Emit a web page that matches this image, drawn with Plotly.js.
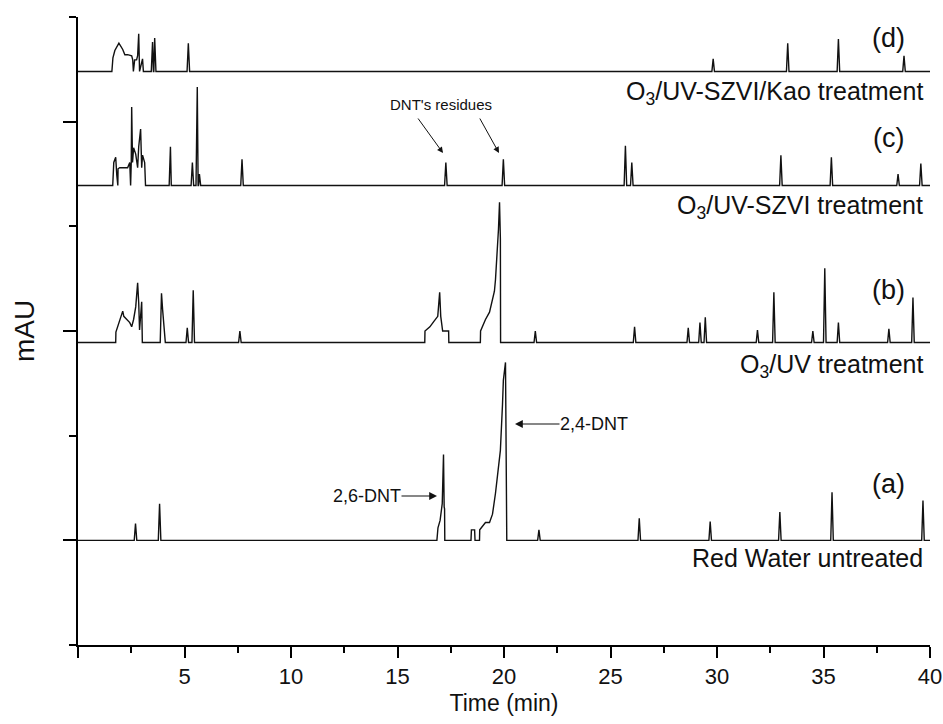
<!DOCTYPE html>
<html>
<head>
<meta charset="utf-8">
<script src="https://cdn.plot.ly/plotly-3.0.1.min.js"></script>
<style>html,body{margin:0;padding:0;background:#fff;}#chart{width:943px;height:724px;}</style>
</head>
<body>
<div id="chart"></div>
<script>
// ---- Data (retention time in min, signal in mAU above each baseline) ----
// (a) Red Water untreated
const aShapeT = [16.85, 16.9, 17.0, 17.1, 17.16, 17.19, 17.21, 17.22,
                 18.45, 18.47, 18.62, 18.64,
                 18.85, 18.86, 19.13, 19.32, 19.46, 19.6, 19.83, 19.93, 19.97, 20.07, 20.1, 20.13];
const aShapeV = [0, 12, 19, 35, 82, 32, 30, 0,
                 0, 10, 10, 0,
                 0, 10, 17, 17, 25, 45, 86, 130, 153, 170, 86, 0];
const aPeakT = [2.7, 3.83, 21.64, 26.35, 29.68, 32.95, 35.4, 39.67];
const aPeakV = [16, 35, 10, 21, 18, 27, 46, 38];

// (b) O3/UV treatment
const bShapeT = [1.77, 1.78, 1.96, 2.1, 2.15, 2.29, 2.43, 2.52, 2.61, 2.71, 2.75, 2.8, 2.85, 2.89, 2.99, 3.02,
                 3.86, 3.92, 3.97, 4.1,
                 16.28, 16.29, 16.52, 16.7, 16.89, 16.98, 17.03, 17.12, 17.4, 17.41,
                 18.89, 18.9, 19.13, 19.32, 19.55, 19.6, 19.69, 19.74, 19.79, 19.83, 19.84];
const bShapeV = [0, 10, 22, 30, 25, 22, 19, 15, 22, 34, 49, 57, 38, 12, 39, 0,
                 0, 47, 32, 0,
                 0, 11, 15, 20, 25, 48, 25, 11, 11, 0,
                 0, 11, 22, 29, 49, 60, 89, 108, 134, 99, 0];
const bPeakT = [5.13, 5.41, 7.6, 21.47, 26.13, 28.65, 29.2, 29.45, 31.9, 32.67, 34.5, 35.06, 35.7, 38.07, 39.2];
const bPeakV = [14, 50, 11, 11, 15, 14, 19, 24, 12, 48, 11, 71, 19, 13, 43];

// (c) O3/UV-SZVI treatment
const cShapeT = [1.63, 1.68, 1.77, 1.82, 1.87, 1.88, 1.96, 2.1, 2.33, 2.43, 2.47, 2.5, 2.52, 2.56, 2.61, 2.71,
                 2.8, 2.85, 2.94, 2.99, 3.03, 3.13, 3.17,
                 4.28, 4.3, 4.34, 4.38];
const cShapeV = [0, 22, 27, 10, 0, 16, 17, 17, 17, 22, 0, 22, 75, 22, 36, 30,
                 17, 37, 54, 17, 29, 22, 0,
                 0, 28, 37, 0];
const cPeakT = [5.37, 5.6, 5.7, 7.7, 17.27, 19.97, 25.7, 26.0, 33.0, 35.37, 38.5, 39.57];
const cPeakV = [22, 94, 11, 25, 22, 25, 38, 22, 29, 27, 11, 21];

// (d) O3/UV-SZVI/Kao treatment
const dShapeT = [1.59, 1.64, 1.73, 1.92, 2.06, 2.1, 2.2, 2.33, 2.52, 2.57, 2.6, 2.66, 2.75, 2.8, 2.85, 2.89, 3.03, 3.07];
const dShapeV = [0, 13, 20, 27, 23, 21, 16, 16, 15, 11, 0, 11, 11, 15, 36, 0, 12, 0];
const dPeakT = [3.5, 3.6, 5.18, 29.82, 33.32, 35.7, 38.78];
const dPeakV = [28, 32, 27, 12, 27, 31, 15];

// vertical offsets of the stacked chromatograms (mAU)
const offsets = [100, 289, 439, 548];
const traceNames = ['Red Water untreated', 'O3/UV treatment', 'O3/UV-SZVI treatment', 'O3/UV-SZVI/Kao treatment'];

// axis ticks
const xTickVals = [0, 5, 10, 15, 20, 25, 30, 35, 40];
const xTickText = ['', '5', '10', '15', '20', '25', '30', '35', '40'];
const xMinorVals = [2.5, 7.5, 12.5, 17.5, 22.5, 27.5, 32.5, 37.5];
const yTickVals = [100, 300, 500];
const yMinorVals = [0, 200, 400, 600];

// ---- build traces ----
const peakHalfWidth = 0.06;
function build(shapeT, shapeV, peakT, peakV, offset) {
  const pts = [[0, 0], [40, 0]];
  shapeT.forEach((t, i) => pts.push([t, shapeV[i]]));
  peakT.forEach((t, i) => {
    pts.push([t - peakHalfWidth, 0]);
    pts.push([t, peakV[i]]);
    pts.push([t + peakHalfWidth, 0]);
  });
  pts.sort((p, q) => p[0] - q[0]);
  return { x: pts.map(p => p[0]), y: pts.map(p => p[1] + offset) };
}
const sets = [
  [aShapeT, aShapeV, aPeakT, aPeakV],
  [bShapeT, bShapeV, bPeakT, bPeakV],
  [cShapeT, cShapeV, cPeakT, cPeakV],
  [dShapeT, dShapeV, dPeakT, dPeakV]
];
const data = sets.map((s, i) => {
  const d = build(s[0], s[1], s[2], s[3], offsets[i]);
  return { x: d.x, y: d.y, type: 'scatter', mode: 'lines', name: traceNames[i],
           line: { color: '#111', width: 1.4 }, hoverinfo: 'x+y' };
});

const F = 'Liberation Sans, Arial, sans-serif';
const L = 78, R = 930, T = 17, B = 645;
function px(x) { return (x - L) / (R - L); }
function py(y) { return (B - y) / (B - T); }

const labelFont = { family: F, size: 25, color: '#111' };
const tagFont = { family: F, size: 27, color: '#111' };
function lab(text, x, y, xa, font) {
  return { text: text, x: px(x), y: py(y), xref: 'paper', yref: 'paper', xanchor: xa, yanchor: 'middle',
           showarrow: false, font: font };
}
const annotations = [
  lab('(d)', 888, 38, 'center', tagFont),
  lab('(c)', 888, 138, 'center', tagFont),
  lab('(b)', 888, 290, 'center', tagFont),
  lab('(a)', 888, 484, 'center', tagFont),
  lab('O<sub>3</sub>/UV-SZVI/Kao treatment', 925, 93, 'right', labelFont),
  lab('O<sub>3</sub>/UV-SZVI treatment', 925, 207, 'right', labelFont),
  lab('O<sub>3</sub>/UV treatment', 925, 366, 'right', labelFont),
  lab('Red Water untreated', 925, 558, 'right', labelFont),
  lab("DNT's residues", 441, 105, 'center', { family: F, size: 15, color: '#111' }),
  { text: '', x: px(443), y: py(153), xref: 'paper', yref: 'paper', showarrow: true, ax: -26, ay: -36,
    arrowhead: 2, arrowsize: 1.2, arrowwidth: 1, arrowcolor: '#111' },
  { text: '', x: px(499), y: py(153), xref: 'paper', yref: 'paper', showarrow: true, ax: -20, ay: -36,
    arrowhead: 2, arrowsize: 1.2, arrowwidth: 1, arrowcolor: '#111' },
  { text: '2,6-DNT', x: px(437), y: py(496), xref: 'paper', yref: 'paper', showarrow: true, ax: -70, ay: 0,
    arrowhead: 2, arrowsize: 1.3, arrowwidth: 1.2, arrowcolor: '#111', borderpad: 0,
    font: { family: F, size: 18, color: '#111' } },
  { text: '2,4-DNT', x: px(515), y: py(424), xref: 'paper', yref: 'paper', showarrow: true, ax: 79, ay: 0,
    arrowhead: 2, arrowsize: 1.3, arrowwidth: 1.2, arrowcolor: '#111', borderpad: 0,
    font: { family: F, size: 18, color: '#111' } }
];

const layout = {
  width: 943, height: 724,
  margin: { l: L, r: 943 - R, t: T, b: 724 - B },
  paper_bgcolor: '#fff', plot_bgcolor: '#fff',
  showlegend: false,
  xaxis: {
    range: [0, 40], showgrid: false, zeroline: false,
    showline: true, linecolor: '#000', linewidth: 2,
    tickmode: 'array', tickvals: xTickVals, ticktext: xTickText,
    ticks: 'outside', ticklen: 11, tickwidth: 2, tickcolor: '#000',
    ticklabeloverflow: 'allow',
    minor: { tickmode: 'array', tickvals: xMinorVals, ticks: 'outside', ticklen: 6, tickwidth: 2, tickcolor: '#000', showgrid: false },
    tickfont: { family: F, size: 22, color: '#111' },
    title: { text: 'Time (min)', font: { family: F, size: 23, color: '#111' }, standoff: 6 }
  },
  yaxis: {
    range: [0, 600], showgrid: false, zeroline: false,
    showline: true, linecolor: '#000', linewidth: 2,
    tickmode: 'array', tickvals: yTickVals, showticklabels: false,
    ticks: 'outside', ticklen: 13, tickwidth: 2, tickcolor: '#000',
    minor: { tickmode: 'array', tickvals: yMinorVals, ticks: 'outside', ticklen: 7, tickwidth: 2, tickcolor: '#000', showgrid: false },
    title: { text: 'mAU', font: { family: F, size: 28, color: '#111' }, standoff: 20 }
  },
  annotations: annotations
};

Plotly.newPlot('chart', data, layout, { displayModeBar: false, staticPlot: true });
</script>
</body>
</html>
